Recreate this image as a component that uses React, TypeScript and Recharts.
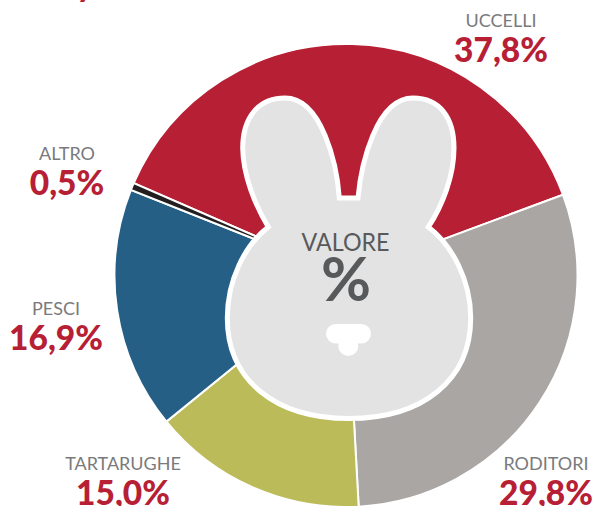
import { PieChart, Pie, Cell } from "recharts";

const names = ["UCCELLI", "RODITORI", "TARTARUGHE", "PESCI", "ALTRO"];
const values = [37.8, 29.8, 15.0, 16.9, 0.5];
const colors = ["#b72034", "#aaa6a4", "#bbbb5a", "#265f85", "#231f20"];

const chartData = names.map((name, i) => ({ name, value: values[i] }));

// label anchors, by slice
const labelPos: Record<string, [number, number]> = {
  UCCELLI: [501, 27],
  RODITORI: [546, 470],
  TARTARUGHE: [123, 470],
  PESCI: [56, 315],
  ALTRO: [67, 160],
};

const FONT = "Lato, 'Noto Sans', sans-serif";
const BUNNY =
  "M339.3 198 C337 165 322 98 285 98 C258 98 242.7 118 242.7 148 C243 175 255 205 268.3 227 " +
  "C245 245 227.3 280 227.3 318 C227.3 380 275 418.5 349 418.5 C423 418.5 470.7 380 470.7 318 " +
  "C470.7 280 452 245 428.3 227 C443 205 454 175 454 148 C454 118 440 98 413 98 " +
  "C376 98 361 165 358 198 Z";

function SliceLabel({ name, value }: { name?: string; value?: number }) {
  const [x, y] = labelPos[name ?? ""] ?? [0, 0];
  return (
    <g style={{ fontFamily: FONT }}>
      <text x={x} y={y} textAnchor="middle" fontSize={18} fill="#7a7a7c">
        {name}
      </text>
      <text x={x} y={y + 35} textAnchor="middle" fontSize={33.5} fontWeight={900} fill="#b72034">
        {value?.toFixed(1).replace(".", ",")}%
      </text>
    </g>
  );
}

// sits over the pie, recharts draws Customized below the sectors
function Bunny() {
  return (
    <svg
      width={595}
      height={506}
      style={{ position: "absolute", left: 0, top: 0, fontFamily: FONT, pointerEvents: "none" }}
    >
      <path d={BUNNY} fill="#e3e3e3" stroke="#ffffff" strokeWidth={5} strokeLinejoin="miter" />
      <rect x={326} y={324} width={45} height={19.5} rx={9.75} fill="#ffffff" />
      <circle cx={348.3} cy={346} r={10} fill="#ffffff" />
      <text x={345.5} y={251} textAnchor="middle" fontSize={25} fill="#58595b" textLength={88} lengthAdjust="spacingAndGlyphs">
        VALORE
      </text>
      <text x={346} y={301} textAnchor="middle" fontSize={62} fontWeight={700} fill="#58595b" textLength={50} lengthAdjust="spacingAndGlyphs">
        %
      </text>
      {/* tail of the cropped heading at the top edge */}
      <text x={85} y={-3} textAnchor="middle" fontSize={32} fontWeight={900} fill="#b72034">
        y
      </text>
    </svg>
  );
}

export default function App() {
  return (
    <div style={{ position: "absolute", left: 0, top: 0, width: 595, height: 506, overflow: "hidden" }}>
      <PieChart width={595} height={506} margin={{ top: 0, right: 0, bottom: 0, left: 0 }}>
        <Pie
          data={chartData}
          dataKey="value"
          nameKey="name"
          cx={346}
          cy={275.5}
          innerRadius={0}
          outerRadius={231.5}
          startAngle={156.5}
          endAngle={-203.5}
          stroke="#ffffff"
          strokeWidth={2}
          label={SliceLabel}
          labelLine={false}
          isAnimationActive={false}
        >
          {names.map((n, i) => (
            <Cell key={n} fill={colors[i]} />
          ))}
        </Pie>
      </PieChart>
      <Bunny />
    </div>
  );
}
